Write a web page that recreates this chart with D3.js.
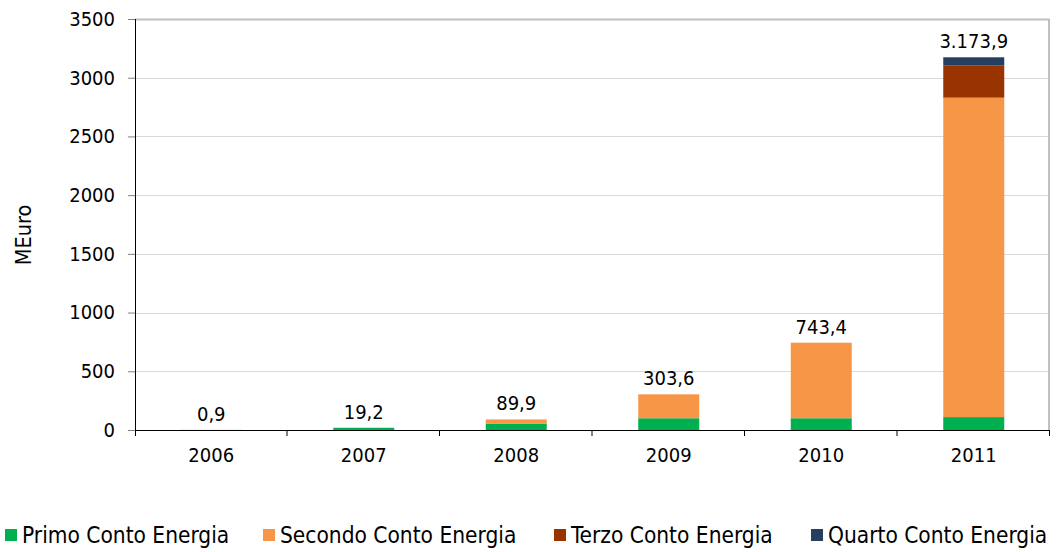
<!DOCTYPE html>
<html>
<head>
<meta charset="utf-8">
<script src="https://cdn.jsdelivr.net/npm/d3@7"></script>
<style>
  body { margin: 0; background: #fff; }
  svg { display: block; }
  text { font-family: "DejaVu Sans Condensed", "Liberation Sans", sans-serif; fill: #000; }
</style>
</head>
<body>
<svg width="1059" height="552"></svg>
<script>
// Chart data
var years = ["2006", "2007", "2008", "2009", "2010", "2011"];
var primo = [0.9, 19.0, 55.0, 100.0, 100.0, 110.0];
var secondo = [0, 0.2, 34.9, 203.6, 643.4, 2720.0];
var terzo = [0, 0, 0, 0, 0, 276.0];
var quarto = [0, 0, 0, 0, 0, 67.9];
var yTicks = [0, 500, 1000, 1500, 2000, 2500, 3000, 3500];

var seriesNames = ["Primo Conto Energia", "Secondo Conto Energia", "Terzo Conto Energia", "Quarto Conto Energia"];
var seriesColors = ["#00b050", "#f79646", "#993300", "#243f60"];
var keys = ["primo", "secondo", "terzo", "quarto"];

var rows = years.map(function (y, i) {
    return { year: y, primo: primo[i], secondo: secondo[i], terzo: terzo[i], quarto: quarto[i] };
});

var it = d3.formatLocale({ decimal: ",", thousands: ".", grouping: [3], currency: ["€", ""] });
var fmt = it.format(",.1f");

var svg = d3.select("svg");
var plotLeft = 135, plotRight = 1050, plotTop = 19, plotBottom = 430;

var x = d3.scaleBand().domain(years).range([plotLeft, plotRight]).padding(0);
var y = d3.scaleLinear().domain([0, 3500]).range([plotBottom, plotTop]);
var barW = x.bandwidth() * 0.4;

// gridlines
svg.append("g").selectAll("line")
    .data(yTicks.slice(1, -1))
    .enter().append("line")
    .attr("x1", plotLeft).attr("x2", plotRight)
    .attr("y1", d => Math.round(y(d)) + 0.5).attr("y2", d => Math.round(y(d)) + 0.5)
    .attr("stroke", "#d9d9d9").attr("stroke-width", 1);

// plot border top/right
svg.append("path")
    .attr("d", "M" + plotLeft + "," + (plotTop + 0.5) + "H" + (plotRight - 1) + "V" + plotBottom)
    .attr("fill", "none").attr("stroke", "#c0c0c0").attr("stroke-width", 2);

// bars
var stack = d3.stack().keys(keys)(rows);
svg.append("g").selectAll("g")
    .data(stack)
    .enter().append("g")
    .attr("fill", (d, i) => seriesColors[i])
    .selectAll("rect")
    .data(d => d)
    .enter().append("rect")
    .attr("x", d => x(d.data.year) + (x.bandwidth() - barW) / 2)
    .attr("width", barW)
    .attr("y", d => y(d[1]))
    .attr("height", d => y(d[0]) - y(d[1]));

// total labels
svg.append("g").selectAll("text")
    .data(rows)
    .enter().append("text")
    .attr("x", d => x(d.year) + x.bandwidth() / 2)
    .attr("y", d => y(d.primo + d.secondo + d.terzo + d.quarto) - 9)
    .attr("text-anchor", "middle")
    .attr("font-size", "20px")
    .text(d => fmt(d.primo + d.secondo + d.terzo + d.quarto));

// y axis
var yAxis = svg.append("g")
    .attr("transform", "translate(" + plotLeft + ",0)")
    .call(d3.axisLeft(y).tickValues(yTicks).tickSize(7).tickPadding(13).tickFormat(d3.format("d")));
yAxis.select(".domain").remove();
yAxis.selectAll(".tick line").attr("stroke", "#808080");
yAxis.selectAll("text").attr("font-size", "20px").attr("font-family", null);
svg.append("line")
    .attr("x1", plotLeft + 0.5).attr("x2", plotLeft + 0.5)
    .attr("y1", plotTop).attr("y2", plotBottom + 6)
    .attr("stroke", "#000");

// x axis
var xAxis = svg.append("g")
    .attr("transform", "translate(0," + plotBottom + ")")
    .call(d3.axisBottom(x).tickSize(0).tickPadding(18));
xAxis.select(".domain").remove();
xAxis.selectAll("text").attr("font-size", "20px").attr("font-family", null);
svg.append("line")
    .attr("x1", plotLeft).attr("x2", plotRight)
    .attr("y1", plotBottom + 0.5).attr("y2", plotBottom + 0.5)
    .attr("stroke", "#000");
svg.append("g").selectAll("line")
    .data(years.slice(1).concat(["end"]))
    .enter().append("line")
    .attr("x1", d => (d === "end" ? plotRight : x(d)) - 0.5)
    .attr("x2", d => (d === "end" ? plotRight : x(d)) - 0.5)
    .attr("y1", plotBottom).attr("y2", plotBottom + 6)
    .attr("stroke", "#000");

// y title
svg.append("text")
    .attr("transform", "translate(31,235) rotate(-90)")
    .attr("text-anchor", "middle")
    .attr("font-size", "21.5px")
    .text("MEuro");

// legend
var legendX = [5, 263, 554, 811];
var lg = svg.append("g").selectAll("g")
    .data(seriesNames)
    .enter().append("g")
    .attr("transform", (d, i) => "translate(" + legendX[i] + ",529)");
lg.append("rect").attr("width", 12).attr("height", 12).attr("fill", (d, i) => seriesColors[i]);
lg.append("text").attr("x", 17).attr("y", 14).attr("font-size", "22.5px").text(d => d);
</script>
</body>
</html>
